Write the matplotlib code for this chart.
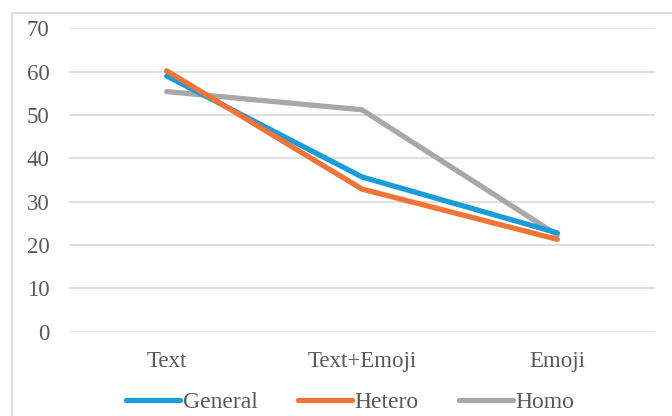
import matplotlib
matplotlib.use("Agg")
import matplotlib.pyplot as plt
from matplotlib.patches import Rectangle

categories = ["Text", "Text+Emoji", "Emoji"]
general = [59.0, 35.7, 22.8]
hetero = [60.2, 32.9, 21.3]
homo = [55.4, 51.2, 22.3]
yticks = [0, 10, 20, 30, 40, 50, 60, 70]

plt.rcParams['font.family'] = ['Liberation Serif', 'DejaVu Serif']

W, H = 672, 416
fig = plt.figure(figsize=(W / 100, H / 100), dpi=100)

# outer chart frame
fig.patches.append(Rectangle((11.7 / W, -0.1), 1.2, 1 - 13.3 / H + 0.1,
                             transform=fig.transFigure, fill=False,
                             edgecolor='#D9D9D9', linewidth=1.2))

left, right = 69 / W, 655 / W
top, bottom = 1 - 28.3 / H, 1 - 331.7 / H
ax = fig.add_axes([left, bottom, right - left, top - bottom])

x = list(range(len(categories)))
colors = {'General': '#1B9BD7', 'Hetero': '#F07437', 'Homo': '#A8A8AA'}
ax.plot(x, general, color=colors['General'], lw=3.8, label='General',
        solid_capstyle='round', solid_joinstyle='round', clip_on=False, zorder=3)
ax.plot(x, hetero, color=colors['Hetero'], lw=3.8, label='Hetero',
        solid_capstyle='round', solid_joinstyle='round', clip_on=False, zorder=4)
ax.plot(x, homo, color=colors['Homo'], lw=3.8, label='Homo',
        solid_capstyle='round', solid_joinstyle='round', clip_on=False, zorder=2)

ax.set_xlim(-0.5, len(categories) - 0.5)
ax.set_ylim(0, 70)
ax.set_yticks(yticks)
ax.set_xticks(x)
ax.set_xticklabels(categories)
for s in ax.spines.values():
    s.set_visible(False)
ax.grid(axis='y', color='#D9D9D9', linewidth=1.2)
ax.set_axisbelow(True)
ax.tick_params(axis='both', length=0, labelsize=16.5, labelcolor='#595959')
ax.tick_params(axis='y', pad=14)
ax.tick_params(axis='x', pad=14)

leg = fig.legend(loc='center', bbox_to_anchor=(350 / W, 1 - 402 / H),
                 ncol=3, frameon=False, fontsize=17, handlelength=2.3,
                 handletextpad=0.1, columnspacing=1.7, borderpad=0)
for t in leg.get_texts():
    t.set_color('#595959')
for h in leg.get_lines():
    h.set_solid_capstyle('round')

fig.savefig('out.png', dpi=100)
